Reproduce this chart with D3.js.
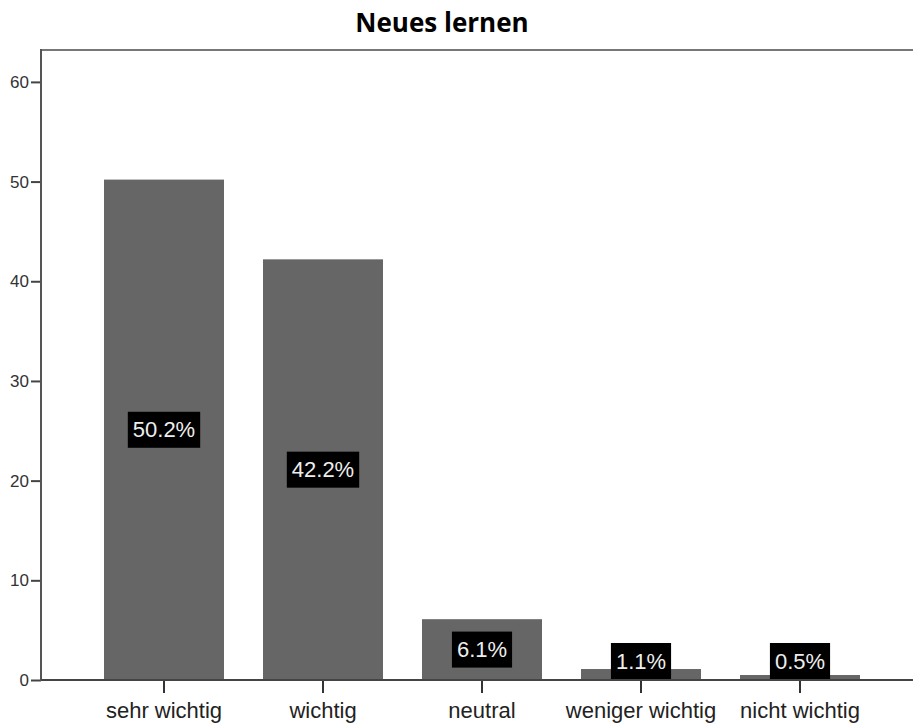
<!DOCTYPE html>
<html>
<head>
<meta charset="utf-8">
<script src="https://cdn.jsdelivr.net/npm/d3@7"></script>
<style>
  html, body { margin: 0; padding: 0; background: #fff; }
  svg { display: block; }
</style>
</head>
<body>
<svg id="chart" width="913" height="724"></svg>
<script>
const title = "Neues lernen";
const categories = ["sehr wichtig", "wichtig", "neutral", "weniger wichtig", "nicht wichtig"];
const values = [50.2, 42.2, 6.1, 1.1, 0.5];
const labels = ["50.2%", "42.2%", "6.1%", "1.1%", "0.5%"];
const yTicks = [0, 10, 20, 30, 40, 50, 60];

const svg = d3.select("#chart");
const W = 913, H = 724;
const plot = { left: 41, top: 50, right: 913, bottom: 680 };

const y = d3.scaleLinear().domain([0, 63.2]).range([plot.bottom, plot.top]);
const x = d3.scaleBand().domain(categories).range([84.5, 879.5])
  .paddingInner(39 / 159).paddingOuter(39 / 159 / 2);

// title
svg.append("text")
  .attr("x", 442).attr("y", 32)
  .attr("text-anchor", "middle")
  .attr("font-family", "'Open Sans', 'DejaVu Sans', sans-serif")
  .attr("font-weight", "bold")
  .attr("font-size", 26)
  .attr("fill", "#000")
  .text(title);

// bars
svg.append("g").selectAll("rect").data(values).join("rect")
  .attr("x", (d, i) => x(categories[i]))
  .attr("width", x.bandwidth())
  .attr("y", d => y(d))
  .attr("height", d => y(0) - y(d))
  .attr("fill", "#666666");

// frame top line
svg.append("line")
  .attr("x1", plot.left).attr("x2", plot.right)
  .attr("y1", plot.top).attr("y2", plot.top)
  .attr("stroke", "#777").attr("stroke-width", 2);

// y axis
const yAxis = d3.axisLeft(y).tickValues(yTicks).tickSize(10).tickPadding(2).tickFormat(d3.format("d"));
const gy = svg.append("g").attr("transform", `translate(${plot.left},0)`).call(yAxis);
gy.select(".domain").remove();
gy.selectAll(".tick line").attr("stroke", "#444").attr("stroke-width", 2);
gy.selectAll(".tick text").attr("font-family", "'Liberation Sans', Arial, sans-serif")
  .attr("font-size", 17).attr("fill", "#333");
svg.append("line")
  .attr("x1", plot.left).attr("x2", plot.left)
  .attr("y1", plot.top - 1).attr("y2", plot.bottom + 1)
  .attr("stroke", "#555").attr("stroke-width", 2);

// x axis
const xAxis = d3.axisBottom(x).tickSize(13).tickPadding(9);
const gx = svg.append("g").attr("transform", `translate(0,${plot.bottom})`).call(xAxis);
gx.select(".domain").remove();
gx.selectAll(".tick line").attr("stroke", "#333").attr("stroke-width", 2);
gx.selectAll(".tick text").attr("font-family", "'Liberation Sans', Arial, sans-serif")
  .attr("font-size", 22).attr("fill", "#222");
svg.append("line")
  .attr("x1", plot.left).attr("x2", plot.right)
  .attr("y1", plot.bottom).attr("y2", plot.bottom)
  .attr("stroke", "#444").attr("stroke-width", 2);

// value labels
const boxH = 36;
const lg = svg.append("g");
values.forEach((v, i) => {
  const cx = x(categories[i]) + x.bandwidth() / 2;
  let cy = (y(v) + y(0)) / 2;
  if (cy + boxH / 2 > plot.bottom - 1) cy = plot.bottom - 1 - boxH / 2;
  const g = lg.append("g");
  const t = g.append("text")
    .attr("x", cx).attr("y", cy)
    .attr("text-anchor", "middle").attr("dominant-baseline", "central")
    .attr("font-family", "'Liberation Sans', Arial, sans-serif")
    .attr("font-size", 22).attr("fill", "#eeeeee")
    .text(labels[i]);
  const w = t.node().getComputedTextLength() + 10;
  g.insert("rect", "text")
    .attr("x", cx - w / 2).attr("y", cy - boxH / 2)
    .attr("width", w).attr("height", boxH)
    .attr("fill", "#000");
});
</script>
</body>
</html>
